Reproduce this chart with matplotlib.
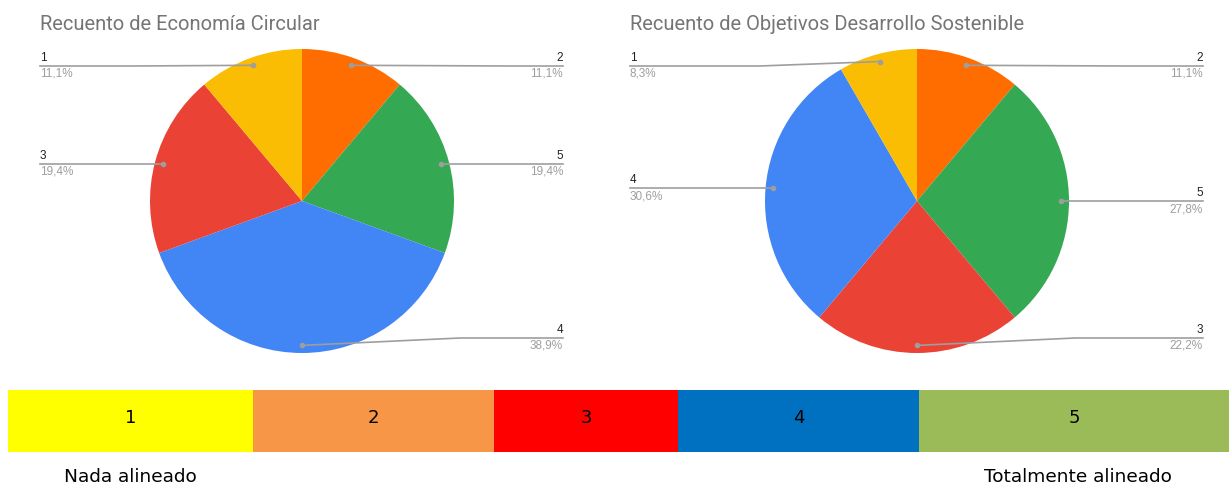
import numpy as np
import matplotlib.pyplot as plt

# Datos
titulos = ['Recuento de Economía Circular', 'Recuento de Objetivos Desarrollo Sostenible']
# orden de las porciones (sentido horario desde arriba)
cats_ec = ['2', '5', '4', '3', '1']
vals_ec = [4, 7, 14, 7, 4]
cats_ods = ['2', '5', '3', '4', '1']
vals_ods = [4, 10, 8, 11, 3]

colores_cat = {'1': '#fbbc04', '2': '#ff6d01', '3': '#ea4335', '4': '#4285f4', '5': '#34a853'}

# Escala inferior
escala_labels = ['1', '2', '3', '4', '5']
escala_colores = ['#ffff00', '#f79646', '#ff0000', '#0070c0', '#9bbb59']
escala_bordes = [8, 253, 494, 678, 919, 1229]

W, H = 1229, 486
fig = plt.figure(figsize=(W / 100, H / 100), dpi=100)
ax = fig.add_axes([0, 0, 1, 1])

FONT = 'Roboto'
FONT_ET = 'Liberation Sans'


def pie_chart(cats, vals, cx, cy, r, title, xl, xr):
    wedges, _ = ax.pie(vals, colors=[colores_cat[c] for c in cats], startangle=90,
                       counterclock=False, center=(cx, H - cy), radius=r,
                       wedgeprops=dict(linewidth=0), frame=True)
    ax.text(xl, H - 25, title, fontsize=14.5, color='#757575', family=FONT,
            va='center', ha='left')
    total = sum(vals)
    for w, c, v in zip(wedges, cats, vals):
        mid = np.deg2rad((w.theta1 + w.theta2) / 2)
        dx = cx + 0.95 * r * np.cos(mid)
        dy = (H - cy) + 0.95 * r * np.sin(mid)
        ly = min(max(dy, H - 338), H - 66)
        right = np.cos(mid) >= -1e-6
        if right:
            xe = xr
            bend = dx + 158 if abs(ly - dy) > 0.5 else dx
            ha = 'right'
        else:
            xe = xl
            bend = dx - 120 if abs(ly - dy) > 0.5 else dx
            ha = 'left'
        ax.plot([dx, bend, xe], [dy, ly, ly], color='#9e9e9e', lw=1.2, zorder=3)
        ax.plot(dx, dy, 'o', ms=3, color='#9e9e9e', zorder=4)
        pct = f'{100 * v / total:.1f}%'.replace('.', ',')
        ax.text(xe, ly + 2, c, fontsize=8.5, color='#222222', family=FONT_ET,
                ha=ha, va='bottom')
        ax.text(xe, ly - 2, pct, fontsize=8.5, color='#9e9e9e', family=FONT_ET,
                ha=ha, va='top')


pie_chart(cats_ec, vals_ec, 302, 201, 152, titulos[0], 40, 563)
pie_chart(cats_ods, vals_ods, 917, 201, 152, titulos[1], 630, 1203)

ax.set_xlim(0, W)
ax.set_ylim(0, H)
ax.set_aspect('auto')
ax.axis('off')

# Barra de escala
lefts = escala_bordes[:-1]
widths = np.diff(escala_bordes)
ax.barh([H - 421] * 5, widths, left=lefts, height=62, color=escala_colores, linewidth=0)
for l, w, lab in zip(lefts, widths, escala_labels):
    ax.text(l + w / 2, H - 418, lab, fontsize=13, color='black', family='DejaVu Sans',
            ha='center', va='center')

ax.text(130, H - 477, 'Nada alineado', fontsize=13.3, color='black',
        family='DejaVu Sans', ha='center', va='center')
ax.text(1078, H - 477, 'Totalmente alineado', fontsize=13.3, color='black',
        family='DejaVu Sans', ha='center', va='center')

fig.savefig('out.png', dpi=100, facecolor='white')
